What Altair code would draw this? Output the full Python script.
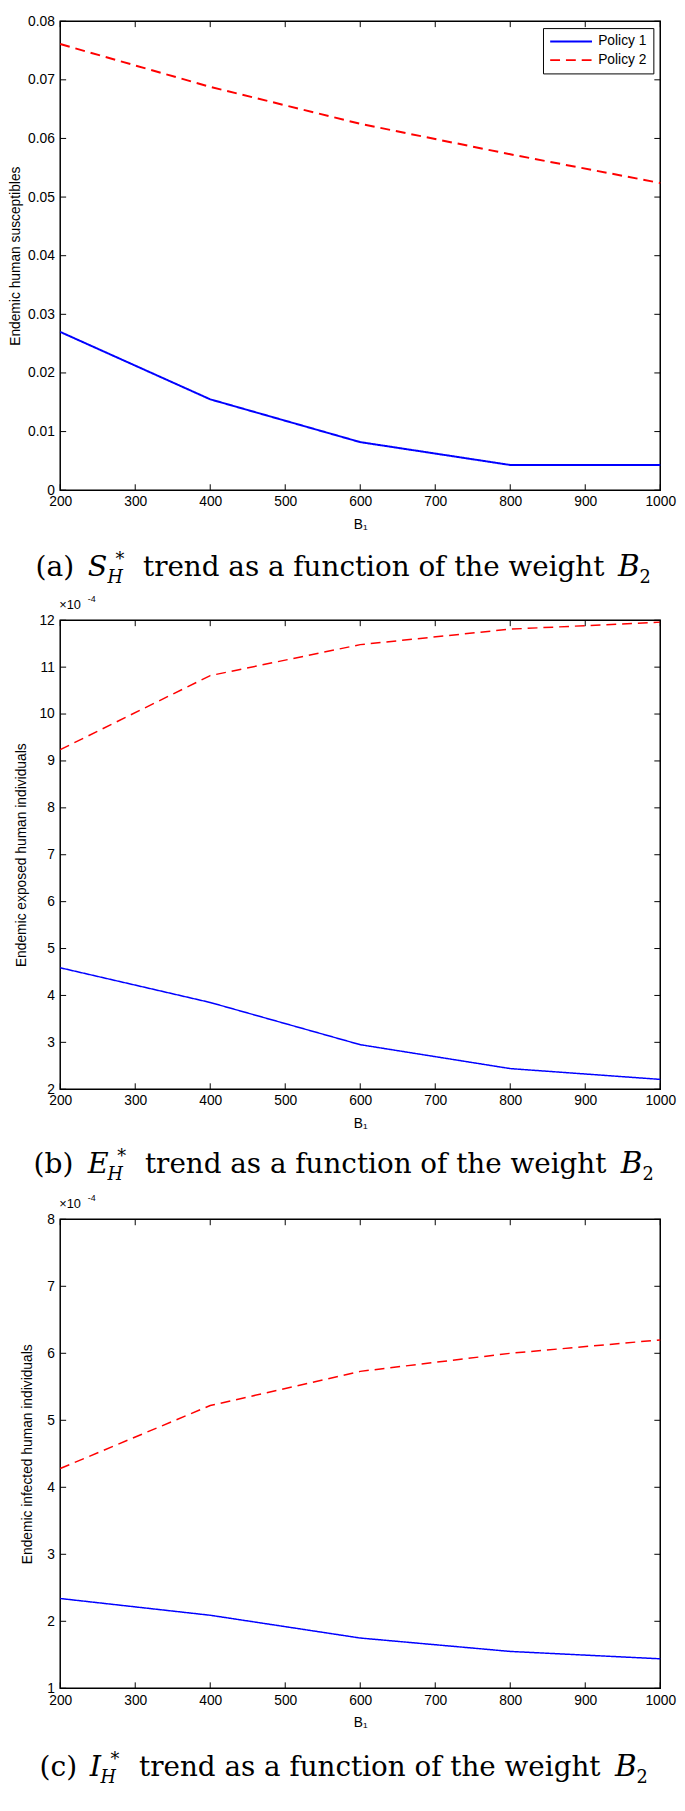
import altair as alt
import pandas as pd

# ---------------- data ----------------
B1 = [200, 400, 600, 800, 1000]
POLICIES = ["Policy 1", "Policy 2"]

S_policy1 = [0.0270, 0.0155, 0.0082, 0.0043, 0.0043]
S_policy2 = [0.0761, 0.0688, 0.0625, 0.0573, 0.0524]
# panels (b) and (c) are in units of 1e-4
E_policy1 = [4.59, 3.85, 2.95, 2.44, 2.21]
E_policy2 = [9.24, 10.82, 11.48, 11.81, 11.96]
I_policy1 = [2.34, 2.09, 1.75, 1.55, 1.44]
I_policy2 = [4.28, 5.22, 5.73, 6.00, 6.20]

X_TICKS = [200, 300, 400, 500, 600, 700, 800, 900, 1000]
S_TICKS = [0, 0.01, 0.02, 0.03, 0.04, 0.05, 0.06, 0.07, 0.08]
E_TICKS = [2, 3, 4, 5, 6, 7, 8, 9, 10, 11, 12]
I_TICKS = [1, 2, 3, 4, 5, 6, 7, 8]

X_TITLE = "B\u2081"
Y_TITLES = ["Endemic human susceptibles",
            "Endemic exposed human individuals",
            "Endemic infected human individuals"]
CAP_TAIL = "trend as a function of the weight"
SCI_TEXT = ("\u00d710", "-4")

# ---------------- layout ----------------
W = 609
TICK = 6
SANS = "Liberation Sans"
SERIF = "DejaVu Serif"
BLUE = "#0000FF"
RED = "#FF0000"


def text_layer(s, x, y, size, italic=False, font=SERIF, align="left", baseline="alphabetic"):
    return alt.Chart(pd.DataFrame({"t": [s]})).mark_text(
        align=align, baseline=baseline, font=font, fontSize=size,
        fontStyle="italic" if italic else "normal", color="black"
    ).encode(text="t:N", x=alt.value(x), y=alt.value(y))


def panel(p1, p2, yticks, ydom, ytitle, fmt, h, title_pad, cap, sci, lw):
    n = len(B1)
    df = pd.DataFrame({"B1": B1 + B1, "value": p1 + p2,
                       "policy": [POLICIES[0]] * n + [POLICIES[1]] * n})
    xs = alt.Scale(domain=[X_TICKS[0], X_TICKS[-1]], nice=False, zero=False)
    ys = alt.Scale(domain=ydom, nice=False, zero=False)
    xaxis = alt.Axis(values=X_TICKS, format="d", title=X_TITLE, labelFlush=False,
                     labelPadding=5, titlePadding=9)
    yaxis = alt.Axis(values=yticks, format=fmt, title=ytitle,
                     labelPadding=6, titlePadding=title_pad)
    leg = alt.Legend(title=None, orient="none", legendX=490, legendY=7,
                     symbolStrokeWidth=lw)
    lines = alt.Chart(df).mark_line(strokeWidth=lw).encode(
        x=alt.X("B1:Q", scale=xs, axis=xaxis, title=X_TITLE),
        y=alt.Y("value:Q", scale=ys, axis=yaxis, title=ytitle),
        color=alt.Color("policy:N", scale=alt.Scale(domain=POLICIES, range=[BLUE, RED]),
                        legend=leg),
        strokeDash=alt.StrokeDash("policy:N",
                                  scale=alt.Scale(domain=POLICIES, range=[[1, 0], [10, 6]]),
                                  legend=leg),
    )
    ydf = pd.DataFrame({"v": yticks})
    xdf = pd.DataFrame({"v": X_TICKS})
    rule = dict(color="black", strokeWidth=1)
    yl = alt.Chart(ydf).mark_rule(**rule).encode(
        y=alt.Y("v:Q", scale=ys, axis=yaxis, title=ytitle), x=alt.value(0), x2=alt.value(TICK))
    yr = alt.Chart(ydf).mark_rule(**rule).encode(
        y=alt.Y("v:Q", scale=ys, axis=yaxis, title=ytitle), x=alt.value(W - TICK), x2=alt.value(W))
    xb = alt.Chart(xdf).mark_rule(**rule).encode(
        x=alt.X("v:Q", scale=xs, axis=xaxis, title=X_TITLE), y=alt.value(h - TICK), y2=alt.value(h))
    xt = alt.Chart(xdf).mark_rule(**rule).encode(
        x=alt.X("v:Q", scale=xs, axis=xaxis, title=X_TITLE), y=alt.value(0), y2=alt.value(TICK))

    layers = [lines, yl, yr, xb, xt]

    # caption below the panel
    lab, sym, p, off = cap
    base = h + off
    layers += [
        text_layer(lab, p["lab"], base, 28.5),
        text_layer(sym, p["sym"], base, 29, italic=True),
        text_layer("H", p["sub"], base + 7, 18, italic=True),
        text_layer("*", p["sup"], base - 11, 18),
        text_layer(CAP_TAIL, p["tail"], base, 28.2),
        text_layer("B", p["B"], base, 30, italic=True),
        text_layer("2", p["B"] + 22, base + 7, 18),
    ]
    if sci:
        layers += [
            text_layer(SCI_TEXT[0], -1, -15, 13, font=SANS, baseline="middle"),
            text_layer(SCI_TEXT[1], 28, -22, 9, font=SANS, baseline="middle"),
        ]
    return alt.layer(*layers).properties(width=W, height=h)


H = 476
cap_a = ("(a)", "S", dict(lab=-25, sym=28, sub=48, sup=56, tail=84, B=566), 87)
cap_b = ("(b)", "E", dict(lab=-27, sym=28, sub=48, sup=58, tail=86, B=569), 85)
cap_c = ("(c)", "I", dict(lab=-21, sym=30, sub=41, sup=51, tail=80, B=563), 89)

p1 = panel(S_policy1, S_policy2, S_TICKS, [0, 0.08], Y_TITLES[0], ".2~f", H, 5, cap_a, False, 2)
p2 = panel(E_policy1, E_policy2, E_TICKS, [2, 12], Y_TITLES[1], "d", H, 11, cap_b, True, 1.5)
p3 = panel(I_policy1, I_policy2, I_TICKS, [1, 8], Y_TITLES[2], "d", H, 12, cap_c, True, 1.5)

chart = alt.vconcat(p1, p2, p3, spacing=132, bounds="flush").properties(
    padding={"top": -8, "left": 0, "right": 0, "bottom": 0}, background="white"
).configure_view(
    stroke="black", strokeWidth=1.5
).configure_axis(
    labelFont=SANS, labelFontSize=14, labelColor="black",
    titleFont=SANS, titleFontSize=14, titleFontWeight="normal", titleColor="black",
    domain=False, ticks=False, grid=False
).configure_legend(
    strokeColor="black", fillColor="white", padding=6,
    labelFont=SANS, labelFontSize=14, labelColor="black",
    symbolType="stroke", symbolSize=1800, clipHeight=15,
    rowPadding=4, labelOffset=5, cornerRadius=0
)

chart.save("out.html", embed_options={"renderer": "svg", "actions": False})
